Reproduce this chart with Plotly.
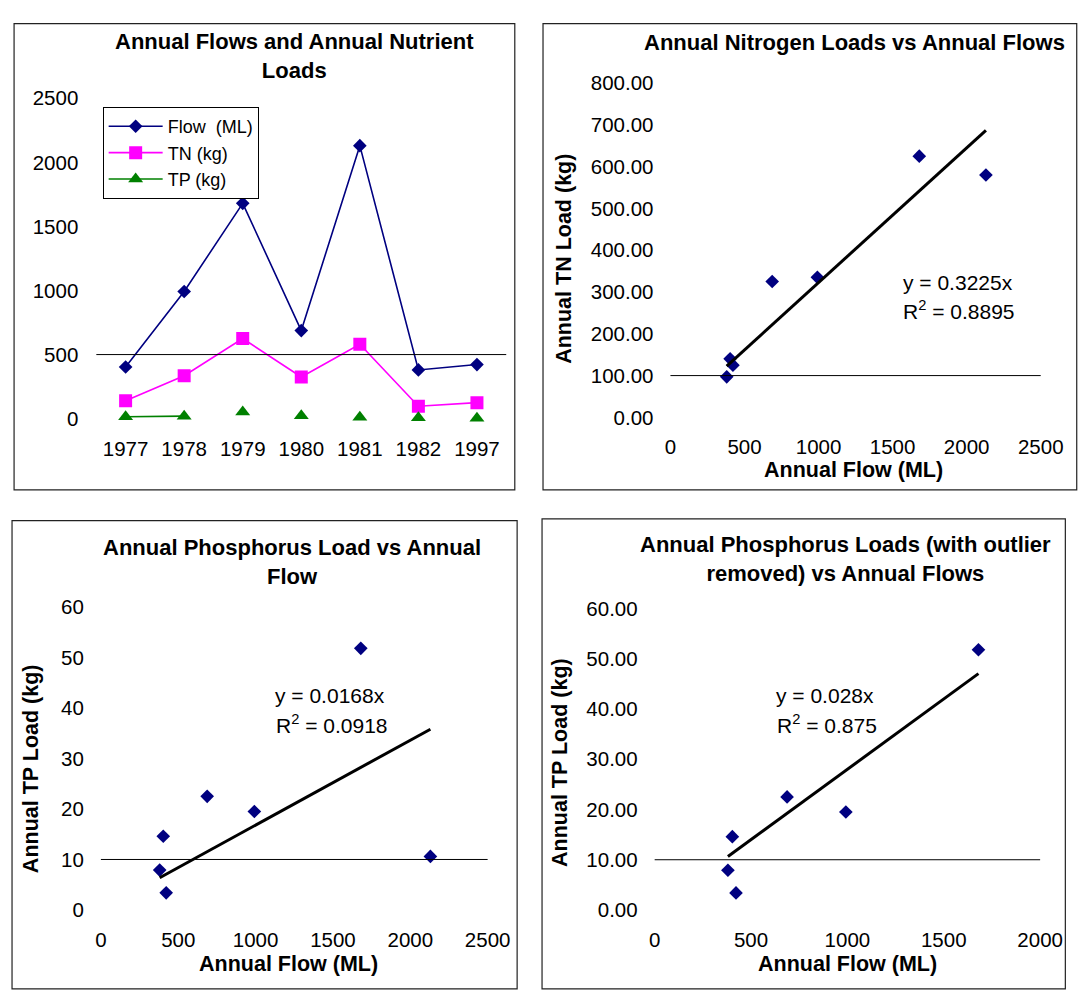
import plotly.graph_objects as go

# layout positions are worked out on the 1090 x 992 canvas in pixels
W, H = 1090, 992

# ---- data -------------------------------------------------------------
years = ["1977", "1978", "1979", "1980", "1981", "1982", "1997"]
flow_ml = [403, 992, 1680, 687, 2130, 380, 422]
tn_kg = [140, 335, 625, 325, 580, 97, 125]
tp_kg = [14.6, 19.5, 51.8, 22.5, 10.6, 7.9, 3.4]

# fitted trend lines (forced through origin), as reported on the charts
tn_slope, tn_r2 = 0.3225, "0.8895"
tp_slope, tp_r2 = 0.0168, "0.0918"
tp_trim_slope, tp_trim_r2 = 0.028, "0.875"
outlier_year = "1981"

trim_flow = [f for y, f in zip(years, flow_ml) if y != outlier_year]
trim_tp = [p for y, p in zip(years, tp_kg) if y != outlier_year]

NAVY = "#000080"
MAGENTA = "#FF00FF"
GREEN = "#008000"
FONT = "Liberation Sans, Arial, sans-serif"


def fx(px):
    return px / W


def fy(py):
    return 1 - py / H


fig = go.Figure()

# ---- panel 1: annual series -------------------------------------------
fig.add_trace(go.Scatter(
    x=years, y=flow_ml, name="Flow  (ML)", mode="lines+markers",
    line=dict(color=NAVY, width=1.6),
    marker=dict(symbol="diamond", size=10.5, color=NAVY),
    xaxis="x", yaxis="y"))
fig.add_trace(go.Scatter(
    x=years, y=tn_kg, name="TN (kg)", mode="lines+markers",
    line=dict(color=MAGENTA, width=1.6),
    marker=dict(symbol="square", size=13, color=MAGENTA),
    xaxis="x", yaxis="y"))
fig.add_trace(go.Scatter(
    x=years[:2], y=tp_kg[:2], name="TP (kg)", mode="lines+markers",
    line=dict(color=GREEN, width=1.6),
    marker=dict(symbol="triangle-up", size=13, color=GREEN),
    xaxis="x", yaxis="y", cliponaxis=False))
fig.add_trace(go.Scatter(
    x=years[2:], y=tp_kg[2:], name="TP (kg)", mode="markers",
    marker=dict(symbol="triangle-up", size=13, color=GREEN),
    showlegend=False, xaxis="x", yaxis="y", cliponaxis=False))

# ---- scatter panels ---------------------------------------------------
def scatter_panel(xs, ys, slope, xa, ya):
    fig.add_trace(go.Scatter(
        x=xs, y=ys, mode="markers", showlegend=False,
        marker=dict(symbol="diamond", size=10.5, color=NAVY),
        xaxis=xa, yaxis=ya, cliponaxis=False))
    lo, hi = min(xs), max(xs)
    fig.add_trace(go.Scatter(
        x=[lo, hi], y=[slope * lo, slope * hi], mode="lines",
        showlegend=False, line=dict(color="black", width=3),
        xaxis=xa, yaxis=ya))


scatter_panel(flow_ml, tn_kg, tn_slope, "x2", "y2")
scatter_panel(flow_ml, tp_kg, tp_slope, "x3", "y3")
scatter_panel(trim_flow, trim_tp, tp_trim_slope, "x4", "y4")

# ---- axes -------------------------------------------------------------
tick_font = dict(family=FONT, size=20.5, color="black")
common = dict(showgrid=False, zeroline=False, showline=False, ticks="",
              tickfont=tick_font, fixedrange=True)

fig.update_layout(
    xaxis=dict(common, domain=[fx(92.8), fx(513.9)], type="category",
               range=[-0.5, 6.5], anchor="y", ticklabelstandoff=16),
    yaxis=dict(common, domain=[fy(416.3), fy(88.3)], range=[0, 2500],
               dtick=500, anchor="x", ticklabelstandoff=17),
    xaxis2=dict(common, domain=[fx(682.6), fx(1063)], range=[0, 2500],
                dtick=500, anchor="y2", ticklabelstandoff=15),
    yaxis2=dict(common, domain=[fy(415), fy(72.7)], range=[0, 800],
                dtick=100, tickformat=".2f", anchor="x2",
                ticklabelstandoff=16),
    xaxis3=dict(common, domain=[fx(97.5), fx(494.8)], range=[0, 2500],
                dtick=500, anchor="y3", ticklabelstandoff=16),
    yaxis3=dict(common, domain=[fy(919.3), fy(609)], range=[0, 60],
                dtick=10, anchor="x3", ticklabelstandoff=16),
    xaxis4=dict(common, domain=[fx(666.4), fx(1062.4)], range=[0, 2000],
                dtick=500, anchor="y4", ticklabelstandoff=16),
    yaxis4=dict(common, domain=[fy(919.3), fy(610.7)], range=[0, 60],
                dtick=10, tickformat=".2f", anchor="x4",
                ticklabelstandoff=16),
)

# ---- reference lines and frames ----------------------------------------
shapes = []
for xa, ya, level in (("x", "y", 500), ("x2", "y2", 100),
                      ("x3", "y3", 10), ("x4", "y4", 10)):
    shapes.append(dict(type="line", xref=f"{xa} domain", yref=ya,
                       x0=0, x1=1, y0=level, y1=level,
                       line=dict(color="black", width=1)))

for x0, y0, x1, y1 in ((8.3, 12, 522.7, 489.3), (551.7, 12, 1100, 489.3),
                       (6.2, 520.7, 525.1, 1000),
                       (550.7, 519, 1088.3, 1000)):
    shapes.append(dict(type="rect", xref="paper", yref="paper",
                       x0=fx(x0), x1=fx(x1), y0=fy(y1), y1=fy(y0),
                       line=dict(color="#222222", width=1.2),
                       fillcolor="rgba(0,0,0,0)"))

# ---- text ---------------------------------------------------------------
title_font = dict(family=FONT, size=22, color="black", weight="bold")
axis_title_font = dict(family=FONT, size=21.5, color="black", weight="bold")
text_font = dict(family=FONT, size=21, color="black")

annotations = []


def note(text, px, py, font, angle=0):
    annotations.append(dict(text=text, x=fx(px), y=fy(py), xref="paper",
                            yref="paper", showarrow=False, font=font,
                            textangle=angle, xanchor="center",
                            yanchor="middle"))


# chart titles
note("Annual Flows and Annual Nutrient<br>Loads", 296, 45.5, title_font)
note("Annual Nitrogen Loads vs Annual Flows", 871.5, 31, title_font)
note("Annual Phosphorus Load vs Annual<br>Flow", 293.5, 563.5, title_font)
note("Annual Phosphorus Loads (with outlier<br>removed) vs Annual Flows",
     862.5, 560, title_font)

# axis titles
note("Annual TN Load (kg)", 572.4, 252.5, axis_title_font, angle=-90)
note("Annual Flow (ML)", 870.8, 468.5, axis_title_font)
note("Annual TP Load (kg)", 25.8, 775, axis_title_font, angle=-90)
note("Annual Flow (ML)", 290.3, 975, axis_title_font)
note("Annual TP Load (kg)", 568.9, 768, axis_title_font, angle=-90)
note("Annual Flow (ML)", 865, 975, axis_title_font)

# trend equations
note(f"y = {tn_slope}x", 977.8, 276.7, text_font)
note(f"R<sup>2</sup> = {tn_r2}", 979, 305, text_font)
note(f"y = {tp_slope}x", 332.8, 700, text_font)
note(f"R<sup>2</sup> = {tp_r2}", 334.5, 729, text_font)
note(f"y = {tp_trim_slope}x", 841.8, 700, text_font)
note(f"R<sup>2</sup> = {tp_trim_r2}", 843, 729, text_font)

fig.update_layout(
    width=W, height=H,
    margin=dict(l=0, r=0, t=0, b=0),
    paper_bgcolor="white", plot_bgcolor="white",
    font=dict(family=FONT, size=20, color="black"),
    shapes=shapes, annotations=annotations,
    showlegend=True,
    legend=dict(x=fx(99.3), y=fy(97.3), xanchor="left", yanchor="top",
                bordercolor="black", borderwidth=1, bgcolor="white",
                font=dict(family=FONT, size=18, color="black"),
                itemwidth=54, tracegroupgap=0, traceorder="normal"),
)

fig.write_html("out.html")
